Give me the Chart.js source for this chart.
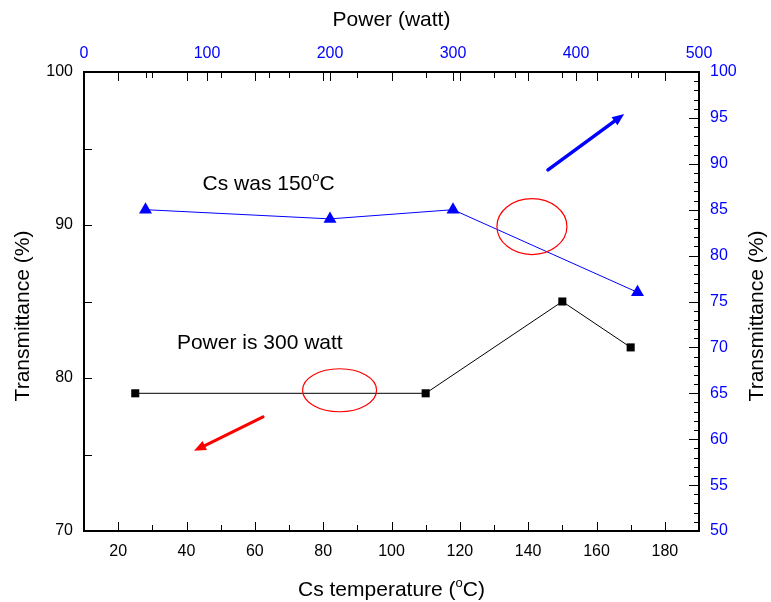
<!DOCTYPE html>
<html>
<head>
<meta charset="utf-8">
<title>Transmittance vs Cs temperature and power</title>
<script src="https://cdn.jsdelivr.net/npm/chart.js@4.4.1/dist/chart.umd.min.js"></script>
<style>
  body { margin: 0; background: #ffffff; }
  #chartBox { position: relative; width: 771px; height: 602px; }
</style>
</head>
<body>
<div id="chartBox"><canvas id="transChart"></canvas></div>
<script>
// Power fixed at 300 W, Cs temperature varied (bottom / left axes)
const csTemperature = [25, 110, 150, 170];
const transmittanceVsTemp = [79, 79, 85, 82];

// Cs fixed at 150 C, power varied (top / right axes)
const powerWatt = [50, 200, 300, 450];
const transmittanceVsPower = [85, 84, 85, 76];

// Tick labels
const tempTicks = [20, 40, 60, 80, 100, 120, 140, 160, 180];
const leftTicks = [70, 80, 90, 100];
const powerTicks = [0, 100, 200, 300, 400, 500];
const rightTicks = [50, 55, 60, 65, 70, 75, 80, 85, 90, 95, 100];

// Minor tick positions
const tempMinor = [30, 50, 70, 90, 110, 130, 150, 170];
const leftMinor = [75, 85, 95];
const powerMinor = [50, 150, 250, 350, 450];
const rightMinor = [];
for (let v = 51; v < 100; v++) {
  if (v % 5 !== 0) rightMinor.push(v);
}

const BLUE = '#0000ff';
const RED = '#ff0000';
const FONT = "'Liberation Sans', Arial, sans-serif";

// Notes on the plot, placed in Cs temperature / left axis units
const notes = [
  { parts: [['Cs was 150', false], ['o', true], ['C', false]], x: 44.7, y: 92.3 },
  { parts: [['Power is 300 watt', false]], x: 37.2, y: 81.9 }
];
const ellipses = [
  { x: 141.1, y: 89.9, rx: 35, ry: 28 },
  { x: 84.8, y: 79.2, rx: 37, ry: 21.5 }
];
const arrows = [
  { from: [145.8, 93.6], to: [168.1, 97.25], color: BLUE, width: 3.5 },
  { from: [62.4, 77.46], to: [42.2, 75.24], color: RED, width: 3 }
];

// Text with superscript pieces, e.g. the degree "o"
function drawRich(ctx, parts, x, y, size, align) {
  const supSize = Math.round(size * 0.62);
  const fontOf = sup => (sup ? supSize : size) + 'px ' + FONT;
  let total = 0;
  const widths = parts.map(([t, sup]) => {
    ctx.font = fontOf(sup);
    const w = ctx.measureText(t).width;
    total += w;
    return w;
  });
  let cx = align === 'center' ? x - total / 2 : x;
  ctx.textAlign = 'left';
  ctx.textBaseline = 'alphabetic';
  parts.forEach(([t, sup], i) => {
    ctx.font = fontOf(sup);
    ctx.fillText(t, cx, sup ? y - size * 0.42 : y);
    cx += widths[i];
  });
}

function drawArrow(ctx, x0, y0, x1, y1, color, width) {
  const ang = Math.atan2(y1 - y0, x1 - x0);
  const head = 12, half = 5;
  const bx = x1 - Math.cos(ang) * head;
  const by = y1 - Math.sin(ang) * head;
  ctx.strokeStyle = color;
  ctx.fillStyle = color;
  ctx.lineWidth = width;
  ctx.lineCap = 'round';
  ctx.beginPath();
  ctx.moveTo(x0, y0);
  ctx.lineTo(bx, by);
  ctx.stroke();
  ctx.beginPath();
  ctx.moveTo(x1, y1);
  ctx.lineTo(bx + Math.sin(ang) * half, by - Math.cos(ang) * half);
  ctx.lineTo(bx - Math.sin(ang) * half, by + Math.cos(ang) * half);
  ctx.closePath();
  ctx.fill();
}

// Ellipses, arrows and text notes
const notesPlugin = {
  id: 'notes',
  afterDatasetsDraw(chart) {
    const { ctx, scales } = chart;
    const sx = scales.x, sy = scales.y;
    ctx.save();
    ctx.strokeStyle = RED;
    ctx.lineWidth = 1.2;
    ellipses.forEach(e => {
      ctx.beginPath();
      ctx.ellipse(sx.getPixelForValue(e.x), sy.getPixelForValue(e.y), e.rx, e.ry, 0, 0, Math.PI * 2);
      ctx.stroke();
    });
    arrows.forEach(a => {
      drawArrow(ctx,
        sx.getPixelForValue(a.from[0]), sy.getPixelForValue(a.from[1]),
        sx.getPixelForValue(a.to[0]), sy.getPixelForValue(a.to[1]),
        a.color, a.width);
    });
    ctx.fillStyle = '#000';
    notes.forEach(n => {
      drawRich(ctx, n.parts, sx.getPixelForValue(n.x), sy.getPixelForValue(n.y), 21, 'left');
    });
    ctx.restore();
  }
};

// Inward ticks on all four sides plus the side / bottom axis titles
const framePlugin = {
  id: 'frame',
  afterDraw(chart) {
    const { ctx, chartArea: a, scales } = chart;
    const sx = scales.x, sy = scales.y, sp = scales.x2, sr = scales.y2;
    const px = v => Math.round(v) + 0.5;
    ctx.save();
    ctx.strokeStyle = '#000';
    ctx.lineWidth = 1;
    ctx.beginPath();
    const tick = (x1, y1, x2, y2) => { ctx.moveTo(x1, y1); ctx.lineTo(x2, y2); };
    const hTicks = (scale, values, len) => values.forEach(v => {
      const p = px(scale.getPixelForValue(v));
      tick(p, a.bottom, p, a.bottom - len);
      tick(p, a.top, p, a.top + len);
    });
    hTicks(sx, tempTicks, 9);
    hTicks(sx, tempMinor, 6);
    powerTicks.concat(powerMinor).forEach(v => {
      const p = px(sp.getPixelForValue(v));
      tick(p, a.top, p, a.top + (v % 100 === 0 ? 9 : 6));
    });
    leftTicks.concat(leftMinor).forEach(v => {
      const p = px(sy.getPixelForValue(v));
      tick(a.left, p, a.left + 8, p);
    });
    rightTicks.forEach(v => {
      const p = px(sr.getPixelForValue(v));
      tick(a.right, p, a.right - 10, p);
    });
    rightMinor.forEach(v => {
      const p = px(sr.getPixelForValue(v));
      tick(a.right, p, a.right - 5, p);
    });
    ctx.stroke();

    ctx.fillStyle = '#000';
    const midY = 316;
    [29, 763].forEach(bx => {
      ctx.save();
      ctx.translate(bx, midY);
      ctx.rotate(-Math.PI / 2);
      drawRich(ctx, [['Transmittance (%)', false]], 0, 0, 21, 'center');
      ctx.restore();
    });
    drawRich(ctx, [['Cs temperature (', false], ['o', true], ['C)', false]],
      (a.left + a.right) / 2, 596, 21, 'center');
    ctx.restore();
  }
};

const frameBorder = { display: true, color: '#000', width: 2 };
const noGrid = { display: false, drawTicks: false };

new Chart(document.getElementById('transChart'), {
  type: 'line',
  data: {
    datasets: [{
      label: 'Power is 300 watt',
      data: csTemperature.map((t, i) => ({ x: t, y: transmittanceVsTemp[i] })),
      xAxisID: 'x',
      yAxisID: 'y',
      borderColor: '#000',
      borderWidth: 1,
      pointStyle: 'rect',
      pointRadius: 5.7,
      pointBackgroundColor: '#000',
      pointBorderWidth: 0
    }, {
      label: 'Cs was 150 C',
      data: powerWatt.map((p, i) => ({ x: p, y: transmittanceVsPower[i] })),
      xAxisID: 'x2',
      yAxisID: 'y2',
      borderColor: BLUE,
      borderWidth: 1,
      pointStyle: 'triangle',
      pointRadius: 7.5,
      pointBackgroundColor: BLUE,
      pointBorderWidth: 0
    }]
  },
  options: {
    responsive: true,
    maintainAspectRatio: false,
    animation: false,
    layout: { padding: 0 },
    plugins: {
      legend: { display: false },
      tooltip: { enabled: false }
    },
    scales: {
      x: {
        type: 'linear',
        position: 'bottom',
        min: 10,
        max: 190,
        afterBuildTicks: s => { s.ticks = tempTicks.map(v => ({ value: v })); },
        afterFit: s => { s.height = 71; },
        grid: noGrid,
        border: frameBorder,
        ticks: { color: '#000', font: { family: FONT, size: 16 }, padding: 11, maxRotation: 0, autoSkip: false }
      },
      y: {
        type: 'linear',
        position: 'left',
        min: 70,
        max: 100,
        afterBuildTicks: s => { s.ticks = leftTicks.map(v => ({ value: v })); },
        afterFit: s => { s.width = 84; },
        grid: noGrid,
        border: frameBorder,
        ticks: { color: '#000', font: { family: FONT, size: 16 }, padding: 11, autoSkip: false }
      },
      x2: {
        type: 'linear',
        position: 'top',
        min: 0,
        max: 500,
        afterBuildTicks: s => { s.ticks = powerTicks.map(v => ({ value: v })); },
        afterFit: s => { s.height = 72; },
        grid: noGrid,
        border: frameBorder,
        ticks: { color: BLUE, font: { family: FONT, size: 16 }, padding: 9, maxRotation: 0, autoSkip: false },
        title: {
          display: true,
          text: 'Power (watt)',
          color: '#000',
          font: { family: FONT, size: 21 },
          padding: { top: 8, bottom: 0 }
        }
      },
      y2: {
        type: 'linear',
        position: 'right',
        min: 50,
        max: 100,
        afterBuildTicks: s => { s.ticks = rightTicks.map(v => ({ value: v })); },
        afterFit: s => { s.width = 72; },
        grid: noGrid,
        border: frameBorder,
        ticks: { color: BLUE, font: { family: FONT, size: 16 }, padding: 11, autoSkip: false }
      }
    }
  },
  plugins: [notesPlugin, framePlugin]
});
</script>
</body>
</html>
